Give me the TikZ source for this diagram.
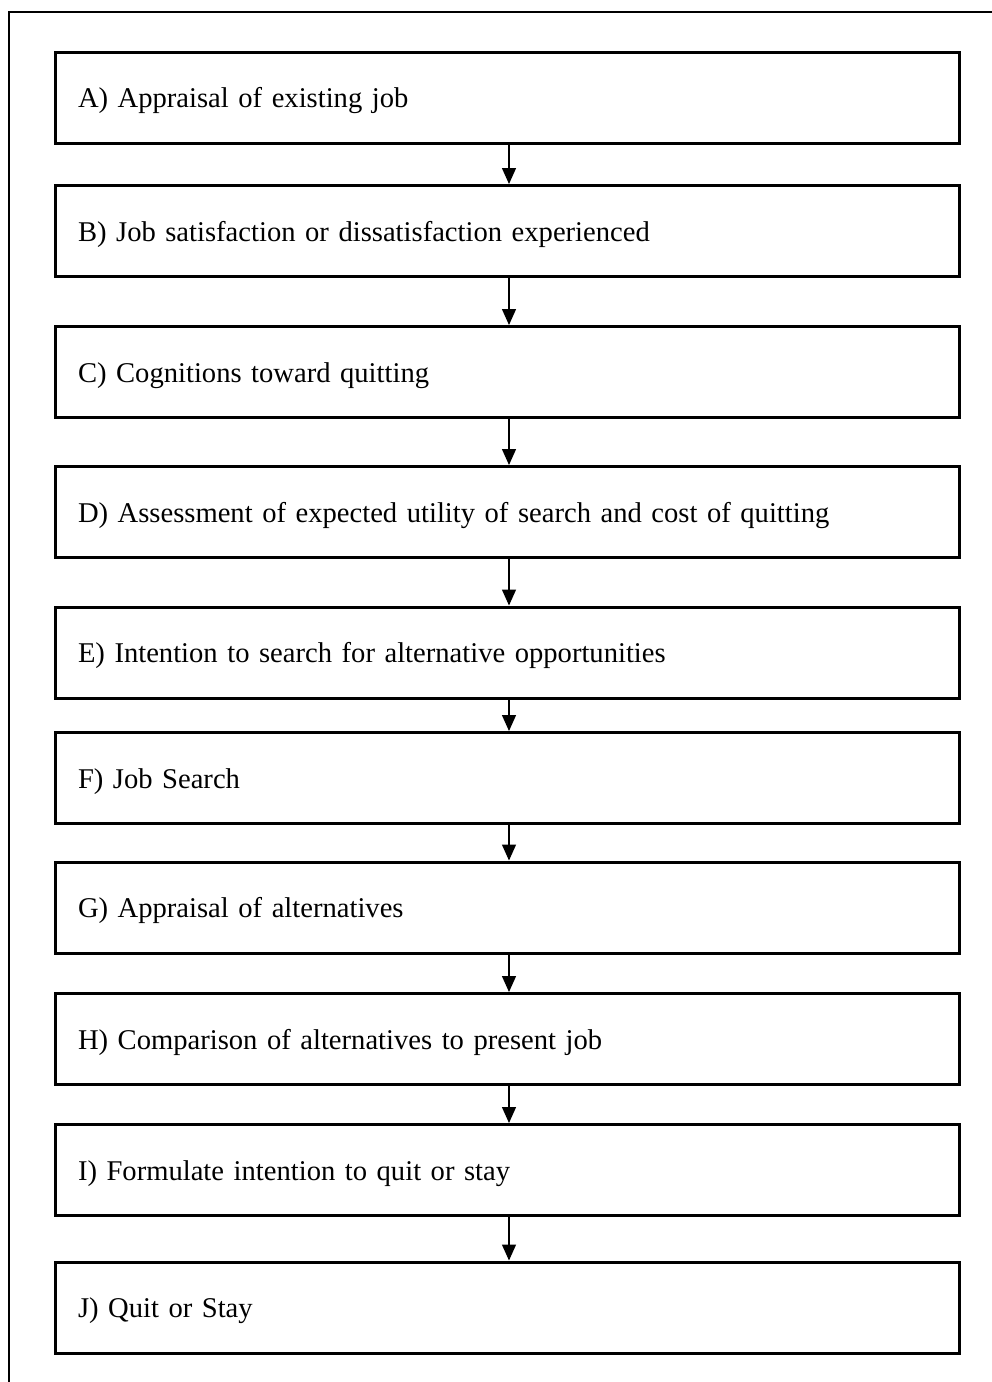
\documentclass[tikz,border=0pt]{standalone}
\usepackage{fontspec}
\setmainfont{Liberation Serif}
\usetikzlibrary{arrows.meta}

\tikzset{
  stepbox/.style={draw=black, line width=3pt, rectangle,
    minimum width=904pt, minimum height=91pt,
    text width=858pt, inner xsep=23pt, align=left,
    text height=25pt, text depth=5pt,
    font=\fontsize{28.6}{34}\selectfont},
  flow/.style={line width=1.4pt, -{Triangle[width=14pt,length=16pt]}},
  frame/.style={draw=black, line width=2.5pt}
}

\begin{document}
\begin{tikzpicture}[x=1pt, y=-1pt]
  \useasboundingbox (0,0) rectangle (992,1382);
  \begin{scope}
    \clip (0,0) rectangle (992,1382);
    \draw[frame] (9,12) rectangle (1010,1400);
  \end{scope}

  % the ten stages, top to bottom
  \node[stepbox] (A) at (507, 97.5)  {A) Appraisal of existing job};
  \node[stepbox] (B) at (507, 231)   {B) Job satisfaction or dissatisfaction experienced};
  \node[stepbox] (C) at (507, 372)   {C) Cognitions toward quitting};
  \node[stepbox] (D) at (507, 512)   {D) Assessment of expected utility of search and cost of quitting};
  \node[stepbox] (E) at (507, 652.5) {E) Intention to search for alternative opportunities};
  \node[stepbox] (F) at (507, 778)   {F) Job Search};
  \node[stepbox] (G) at (507, 907.5) {G) Appraisal of alternatives};
  \node[stepbox] (H) at (507, 1039)  {H) Comparison of alternatives to present job};
  \node[stepbox] (I) at (507, 1170)  {I) Formulate intention to quit or stay};
  \node[stepbox] (J) at (507, 1307.5){J) Quit or Stay};

  % connectors
  \foreach \u/\v in {A/B, B/C, C/D, D/E, E/F, F/G, G/H, H/I, I/J}
    \draw[flow] ([xshift=2pt]\u.south) -- ([xshift=2pt]\v.north);
\end{tikzpicture}
\end{document}
